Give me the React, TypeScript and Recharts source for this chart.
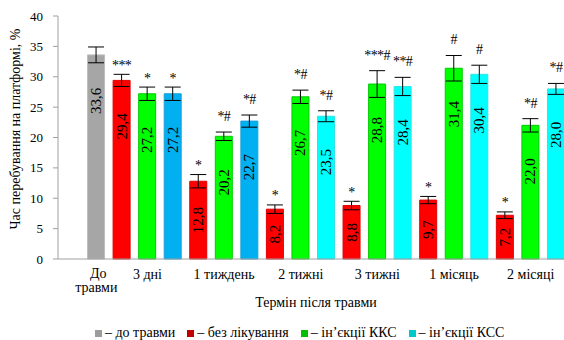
import { BarChart, Bar, XAxis, YAxis, ErrorBar, Cell, LabelList, Label } from "recharts";

const categories = ["До травми", "3 дні", "1 тиждень", "2 тижні", "3 тижні", "1 місяць", "2 місяці"];
const beforeValue = 33.6;
const beforeErr = 1.3;
const noTreatment = [29.4, 12.8, 8.2, 8.8, 9.7, 7.2];
const noTreatmentErr = [1.0, 1.1, 0.7, 0.7, 0.6, 0.55];
const noTreatmentMarks = ["***", "*", "*", "*", "*", "*"];
const kksValues = [27.2, 20.2, 26.7, 28.8, 31.4, 22.0];
const kksErr = [1.1, 0.7, 1.1, 2.2, 2.1, 1.1];
const kksMarks = ["*", "*#", "*#", "***#", "#", "*#"];
const kssValues = [27.2, 22.7, 23.5, 28.4, 30.4, 28.0];
const kssErr = [1.1, 1.0, 0.9, 1.5, 1.5, 0.9];
const kssMarks = ["*", "*#", "*#", "**#", "#", "*#"];
const yTicks = [0, 5, 10, 15, 20, 25, 30, 35, 40];

const legendItems = [
  { label: "– до травми", color: "#9c9c9c" },
  { label: "– без лікування", color: "#c00000" },
  { label: "– ін’єкції ККС", color: "#00c000" },
  { label: "– ін’єкції КСС", color: "#00c8c8" },
];

const SERIF = "'Liberation Serif', 'Times New Roman', serif";

type Row = {
  key: string;
  tick: string;
  value: number | null;
  err?: number;
  mark: string;
  fill: string;
  stroke: string;
};

const rows: Row[] = [
  { key: "s0", tick: "", value: null, mark: "", fill: "none", stroke: "none" },
  { key: "s1", tick: categories[0], value: beforeValue, err: beforeErr, mark: "", fill: "#a6a6a6", stroke: "#bdbdbd" },
];
noTreatment.forEach((v, i) => {
  const third = i < 2 ? { fill: "#00b0f0", stroke: "#1aa0dc" } : { fill: "#00ffff", stroke: "#30e4e4" };
  rows.push({ key: `r${i}`, tick: "", value: v, err: noTreatmentErr[i], mark: noTreatmentMarks[i], fill: "#ff0000", stroke: "#e00000" });
  rows.push({ key: `g${i}`, tick: categories[i + 1], value: kksValues[i], err: kksErr[i], mark: kksMarks[i], fill: "#00ff00", stroke: "#00cc00" });
  rows.push({ key: `c${i}`, tick: "", value: kssValues[i], err: kssErr[i], mark: kssMarks[i], ...third });
});

// LabelList only walks the slots that hold a bar
const barRows = rows.filter((r) => r.value != null);

const fmt = (v: number) => v.toFixed(1).replace(".", ",");

function XTick(props: any) {
  const { x, index } = props;
  const t = rows[index]?.tick ?? "";
  if (!t) return <g />;
  if (index === 1) {
    const [a, b] = t.split(" ");
    return (
      <g>
        <text x={x + 2} y={278} textAnchor="middle" fontFamily={SERIF} fontSize={14} fill="#000">
          {a}
        </text>
        <text x={x} y={292} textAnchor="middle" fontFamily={SERIF} fontSize={14} fill="#000">
          {b}
        </text>
      </g>
    );
  }
  return (
    <text x={x} y={279} textAnchor="middle" fontFamily={SERIF} fontSize={14} fill="#000">
      {t}
    </text>
  );
}

function YTick(props: any) {
  const { x, y, payload } = props;
  return (
    <text x={x} y={y} textAnchor="end" dominantBaseline="central" fontFamily={SERIF} fontSize={13} fill="#000">
      {payload.value}
    </text>
  );
}

function ValueLabel(props: any) {
  const { x, y, width, height, value } = props;
  if (value == null) return null;
  const cx = x + width / 2;
  const cy = y + Math.min(46, height / 2);
  return (
    <text
      x={cx}
      y={cy}
      transform={`rotate(-90 ${cx} ${cy})`}
      textAnchor="middle"
      dominantBaseline="central"
      fontFamily={SERIF}
      fontSize={15}
      fill="#000"
    >
      {fmt(value)}
    </text>
  );
}

function MarkLabel(props: any) {
  const { x, y, width, height, value, index } = props;
  const r = barRows[index];
  if (value == null || !r || !r.mark) return null;
  const perUnit = height / value;
  const errTop = y - (r.err ?? 0) * perUnit;
  const lift = r.mark.includes("#") ? 11 : 4.5;
  return (
    <text
      x={x + width / 2}
      y={errTop - lift}
      textAnchor="middle"
      fontFamily={SERIF}
      fontSize={14}
      letterSpacing={-0.6}
      fill="#000"
    >
      {r.mark}
    </text>
  );
}

export default function App() {
  return (
    <div
      style={{
        position: "absolute",
        left: 0,
        top: 0,
        width: 564,
        height: 340,
        overflow: "hidden",
        background: "#fff",
        fontFamily: SERIF,
      }}
    >
      <div
        style={{
          position: "absolute",
          left: 188,
          top: -32,
          fontFamily: SERIF,
          fontSize: 28,
          whiteSpace: "nowrap",
          lineHeight: "30px",
        }}
      >
        (р≤0,05) – різниця до травми групу)
      </div>
      <BarChart
        width={570}
        height={340}
        data={rows}
        margin={{ top: 16, right: 1, left: 0, bottom: 0 }}
        barSize={17}
        style={{ fontFamily: SERIF }}
      >
        <XAxis dataKey="key" interval={0} tickLine={false} height={81} stroke="#a0a0a0" tick={XTick}>
          <Label
            content={() => (
              <text x={316} y={307} textAnchor="middle" fontFamily={SERIF} fontSize={14} fill="#000">
                Термін після травми
              </text>
            )}
          />
        </XAxis>
        <YAxis
          width={58}
          domain={[0, 40]}
          ticks={yTicks}
          tickSize={5}
          tickMargin={10}
          stroke="#a0a0a0"
          tick={YTick}
        >
          <Label
            content={() => (
              <text
                x={15}
                y={129}
                transform="rotate(-90 15 129)"
                textAnchor="middle"
                dominantBaseline="central"
                fontFamily={SERIF}
                fontSize={14}
                fill="#000"
              >
                Час перебування на платформі, %
              </text>
            )}
          />
        </YAxis>
        <Bar dataKey="value" isAnimationActive={false}>
          {rows.map((r) => (
            <Cell key={r.key} fill={r.fill} stroke={r.stroke} strokeWidth={1} />
          ))}
          <ErrorBar dataKey="err" width={8} stroke="#000" strokeWidth={1} direction="y" />
          <LabelList dataKey="value" content={ValueLabel} />
          <LabelList dataKey="value" content={MarkLabel} />
        </Bar>
      </BarChart>
      <div
        style={{
          position: "absolute",
          left: 95,
          top: 325,
          display: "flex",
          alignItems: "center",
          gap: 12,
          fontFamily: SERIF,
          fontSize: 14,
          whiteSpace: "nowrap",
        }}
      >
        {legendItems.map((it) => (
          <div key={it.label} style={{ display: "flex", alignItems: "center" }}>
            <span style={{ display: "inline-block", width: 7, height: 7, background: it.color, marginRight: 3 }} />
            <span>{it.label}</span>
          </div>
        ))}
      </div>
    </div>
  );
}
